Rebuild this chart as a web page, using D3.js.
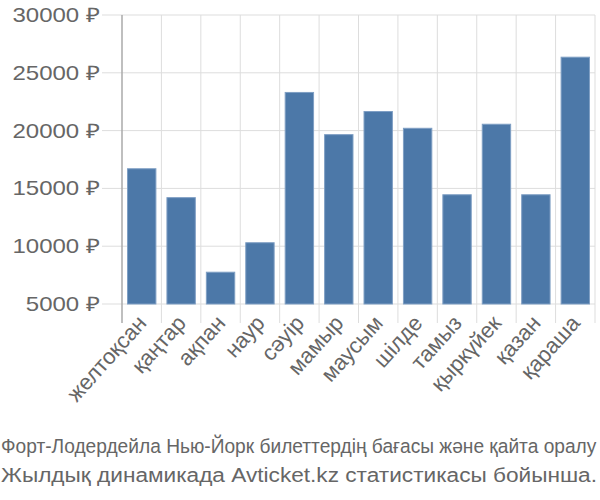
<!DOCTYPE html>
<html><head><meta charset="utf-8">
<script src="https://cdn.jsdelivr.net/npm/d3@7"></script>
<style>body{margin:0;background:#fff}svg{display:block}text{font-family:"Liberation Sans",Arial,sans-serif;fill:#666}</style>
</head><body><svg id="c" width="600" height="500"></svg>
<script>
const months = ["желтоқсан","қаңтар","ақпан","наур","сәуір","мамыр","маусым","шілде","тамыз","қыркүйек","қазан","қараша"];
const prices = [16700, 14200, 7750, 10300, 23300, 19650, 21650, 20200, 14450, 20550, 14450, 26350];
const yTicks = [5000, 10000, 15000, 20000, 25000, 30000];
const titleLines = ["Форт-Лодердейла Нью-Йорк билеттердің бағасы және қайта оралу", "Жылдық динамикада Avticket.kz статистикасы бойынша."];

(function () {
const svg = d3.select("#c");
const pLeft = 122, pRight = 595, pTop = 15, pBottom = 304;
const x = d3.scaleBand().domain(months).range([pLeft, pRight]).paddingInner(0.28).paddingOuter(0.14);
const y = d3.scaleLinear().domain([5000, 30000]).range([pBottom, pTop]);
const step = x.step();

svg.append("g").selectAll("line").data(yTicks).join("line")
  .attr("x1", 102).attr("x2", pRight).attr("y1", d => y(d)).attr("y2", d => y(d))
  .attr("stroke", "#ddd").attr("stroke-width", 1);
const bounds = months.map((m, i) => pLeft + i * step).concat([pRight]);
svg.append("g").selectAll("line").data(bounds.slice(1)).join("line")
  .attr("x1", d => d).attr("x2", d => d).attr("y1", pTop).attr("y2", 323)
  .attr("stroke", "#ddd").attr("stroke-width", 1);
svg.append("line").attr("x1", pLeft).attr("x2", pLeft).attr("y1", pTop).attr("y2", 323)
  .attr("stroke", "#aaa").attr("stroke-width", 1.5);

svg.append("g").selectAll("text").data(yTicks).join("text")
  .attr("transform", d => `translate(100,${y(d)}) scale(1.2,1)`).attr("dy", "0.35em")
  .attr("text-anchor", "end").attr("font-size", 20).text(d => d + " ₽");

svg.append("g").selectAll("rect").data(months).join("rect")
  .attr("x", d => x(d)).attr("width", x.bandwidth())
  .attr("y", (d, i) => y(prices[i])).attr("height", (d, i) => y(5000) - y(prices[i]))
  .attr("fill", "#4c78a8").attr("stroke", "#7f9fc4").attr("stroke-width", 1);

svg.append("g").selectAll("text").data(months).join("text")
  .attr("transform", d => `translate(${x(d) + x.bandwidth() / 2 + 6},${324}) rotate(-48)`)
  .attr("text-anchor", "end").attr("font-size", 22).text(d => d);

svg.append("text").attr("transform", "translate(1,453) scale(1.05,1.08)").attr("font-size", 18)
  .attr("textLength", 567).attr("lengthAdjust", "spacingAndGlyphs").text(titleLines[0]);
svg.append("text").attr("x", 1).attr("y", 482).attr("font-size", 20)
  .attr("textLength", 596).attr("lengthAdjust", "spacingAndGlyphs").text(titleLines[1]);
})();
</script></body></html>
